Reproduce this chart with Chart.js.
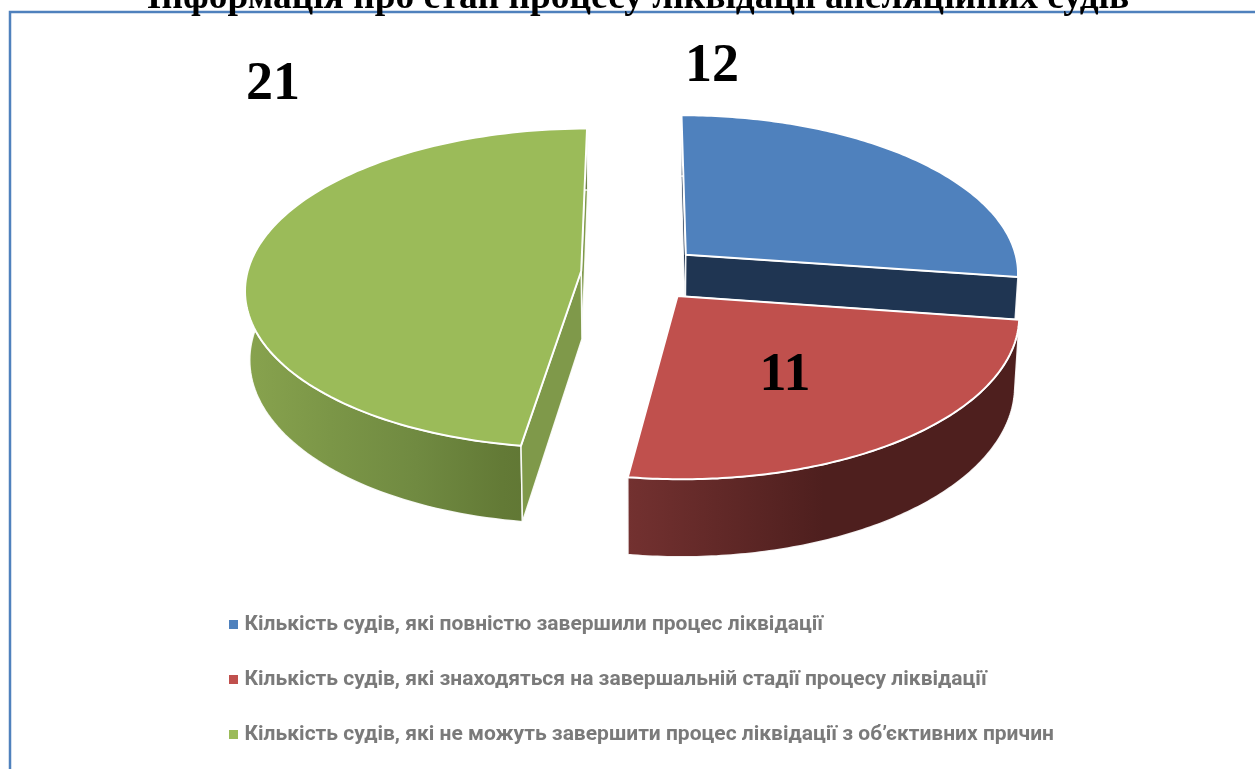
<!DOCTYPE html>
<html>
<head>
<meta charset="utf-8">
<style>
html,body{margin:0;padding:0;background:#fff;overflow:hidden}
canvas{display:block}
</style>
<script src="https://cdn.jsdelivr.net/npm/chart.js@4/dist/chart.umd.js"></script>
</head>
<body>
<canvas id="c" width="1255" height="769"></canvas>
<script>
const chartTitle = 'Інформація про стан процесу ліквідації апеляційних судів';
const categories = [
  'Кількість судів, які повністю завершили процес ліквідації',
  'Кількість судів, які знаходяться на завершальній стадії процесу ліквідації',
  'Кількість судів, які не можуть завершити процес ліквідації з об’єктивних причин'
];
const values = [12, 11, 21];
const topColors = ['#4F81BD', '#C0504D', '#9BBB59'];
const innerColors = ['#1F3552', '#5A2322', '#7F994A'];
const wallStops = [
  ['#1F3552', '#1F3552'],
  ['#733130', '#4E1F1E', '#4E1F1E'],
  ['#88A34E', '#7B9647', '#708A41', '#637A36', '#5C7131']
];
const labelAnchors = [[712, 81], [785, 390], [273, 99]];
const paintOrder = [0, 2, 1];

const PIE = {cx: 641, cy: 273, radius: 334, tilt: 0.4735, persp: 0.000322, depth: 68, shrink: 0.012};

function project(X, Y, z) {
  const w = 1 - PIE.persp * Y;
  return [PIE.cx + X / w * (1 - PIE.shrink * z), PIE.cy + PIE.tilt * Y / w + PIE.depth * z / w];
}

function tracePath(ctx, pts) {
  ctx.beginPath();
  pts.forEach((p, i) => i ? ctx.lineTo(p[0], p[1]) : ctx.moveTo(p[0], p[1]));
  ctx.closePath();
}

const pie3d = {
  id: 'pie3d',
  beforeDraw(chart) {
    const ctx = chart.ctx;
    ctx.save();
    ctx.fillStyle = '#fff';
    ctx.fillRect(0, 0, chart.width, chart.height);
    ctx.strokeStyle = '#4F81BD';
    ctx.lineWidth = 2.5;
    ctx.beginPath();
    ctx.moveTo(10, chart.height);
    ctx.lineTo(10, 12);
    ctx.lineTo(chart.width, 12);
    ctx.stroke();
    ctx.restore();
  },
  afterLayout(chart) {
    chart.titleBlock.left = 21;
    chart.titleBlock.top = -24;
    chart.legend.left = 233 - chart.options.plugins.legend.labels.padding;
    chart.legend.top = 580;
  },
  beforeDatasetsDraw(chart) {
    const ctx = chart.ctx;
    const arcs = chart.getDatasetMeta(0).data;
    ctx.save();
    ctx.lineJoin = 'round';
    const drawFace = (i, ax, ay, e) => {
      tracePath(ctx, [project(ax, ay, 0), project(e[0], e[1], 0), project(e[0], e[1], 1), project(ax, ay, 1)]);
      ctx.fillStyle = innerColors[i];
      ctx.fill();
      ctx.strokeStyle = 'rgba(255,255,255,0.9)';
      ctx.lineWidth = 1.5;
      ctx.stroke();
    };
    paintOrder.forEach(i => {
      const arc = arcs[i];
      const {startAngle, endAngle} = arc.getProps(['startAngle', 'endAngle'], true);
      const off = arc.options.offset;
      const mid = (startAngle + endAngle) / 2;
      const ax = off * Math.cos(mid), ay = off * Math.sin(mid);
      const rim = [];
      const n = 120;
      for (let k = 0; k <= n; k++) {
        const t = startAngle + (endAngle - startAngle) * k / n;
        rim.push([ax + PIE.radius * Math.cos(t), ay + PIE.radius * Math.sin(t)]);
      }
      const top = rim.map(p => project(p[0], p[1], 0));
      const bottom = rim.map(p => project(p[0], p[1], 1));
      // cut faces turned away from the viewer go under the wall, the others over it
      const startFront = Math.sin(startAngle - Math.PI / 2) > 1e-6;
      const endFront = Math.sin(endAngle + Math.PI / 2) > 1e-6;
      if (!startFront) drawFace(i, ax, ay, rim[0]);
      if (!endFront) drawFace(i, ax, ay, rim[n]);
      // outer wall
      const xs = top.concat(bottom).map(p => p[0]);
      const g = ctx.createLinearGradient(Math.min(...xs), 0, Math.max(...xs), 0);
      wallStops[i].forEach((c, k, all) => g.addColorStop(k / (all.length - 1), c));
      tracePath(ctx, top.concat(bottom.slice().reverse()));
      ctx.fillStyle = g;
      ctx.fill();
      ctx.strokeStyle = 'rgba(255,255,255,0.9)';
      ctx.lineWidth = 1.5;
      ctx.stroke();
      if (startFront) drawFace(i, ax, ay, rim[0]);
      if (endFront) drawFace(i, ax, ay, rim[n]);
      // top face
      tracePath(ctx, [project(ax, ay, 0)].concat(top));
      ctx.fillStyle = topColors[i];
      ctx.fill();
      ctx.strokeStyle = '#fff';
      ctx.lineWidth = 2;
      ctx.stroke();
    });
    // value labels
    ctx.fillStyle = '#000';
    ctx.font = 'bold 54px "Liberation Serif"';
    ctx.textAlign = 'center';
    ctx.textBaseline = 'alphabetic';
    values.forEach((v, i) => ctx.fillText(String(v), labelAnchors[i][0], labelAnchors[i][1]));
    ctx.restore();
    return false;
  }
};

new Chart(document.getElementById('c'), {
  type: 'pie',
  data: {
    labels: categories,
    datasets: [{data: values, backgroundColor: topColors, borderWidth: 0, offset: 60}]
  },
  options: {
    responsive: false,
    animation: false,
    rotation: 0,
    plugins: {
      tooltip: {enabled: false},
      title: {
        display: true,
        text: chartTitle,
        color: '#000',
        font: {family: '"Liberation Serif"', size: 37.4, weight: 'bold'},
        padding: 0
      },
      legend: {
        position: 'bottom',
        align: 'start',
        labels: {
          color: '#7A7A7A',
          font: {family: 'Roboto', size: 21, weight: 'bold'},
          boxWidth: 1,
          boxHeight: 1,
          padding: 34,
          generateLabels(chart) {
            return Chart.overrides.doughnut.plugins.legend.labels.generateLabels(chart)
              .map(item => ({...item, strokeStyle: item.fillStyle, lineWidth: 8}));
          }
        }
      }
    }
  },
  plugins: [pie3d]
});
</script>
</body>
</html>
